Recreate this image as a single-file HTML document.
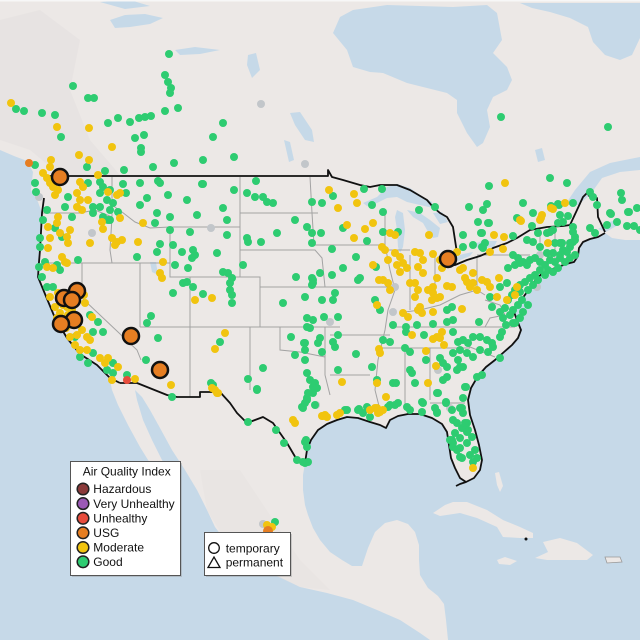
<!DOCTYPE html>
<html><head><meta charset="utf-8">
<style>
html,body{margin:0;padding:0;background:#c6d9e8;}
svg{display:block;}
text{font-family:"Liberation Sans",Arial,sans-serif;font-size:12px;fill:#111;}
</style></head>
<body>
<svg width="640" height="640" viewBox="0 0 640 640" xmlns="http://www.w3.org/2000/svg">
<rect x="0" y="0" width="640" height="640" fill="#c6d9e8"/>
<!-- land -->
<path fill="#ece8e6" d="M0,0 L640,0 L640,240 L625,240 L612,238 L605,233 L598,237 L590,239 L583,242 L579,248 L578,256 L574,262 L566,264 L558,267 L550,270 L543,273 L537,278 L532,285 L527,292 L522,299 L517,305 L514,312 L517,320 L521,330 L518,338 L512,345 L504,352 L495,360 L486,367 L478,376 L471,388 L468,400 L470,415 L475,430 L479,445 L482,460 L480,470 L474,478 L466,482 L460,478 L455,468 L451,458 L449,445 L447,432 L442,424 L432,418 L420,414 L408,414 L398,416 L390,420 L386,428 L380,425 L370,422 L358,418 L347,417 L337,420 L327,424 L318,430 L311,440 L307,450 L305,463 L303,475 L303,490 L305,505 L308,515 L313,528 L320,540 L330,552 L342,560 L352,566 L362,566 L368,548 L375,532 L385,523 L397,520 L408,524 L415,532 L419,545 L419,560 L420,575 L428,588 L438,596 L444,604 L446,620 L448,640 L430,640 L420,633 L400,620 L377,610 L353,600 L327,593 L300,587 L280,577 L257,567 L240,555 L227,543 L215,527 L207,510 L197,490 L185,470 L172,450 L160,428 L150,410 L142,397 L135,390 L137,400 L143,420 L152,440 L162,460 L172,478 L180,495 L176,498 L166,485 L153,468 L140,447 L128,425 L118,405 L112,390 L110,380 L97,365 L80,354 L67,338 L55,318 L45,294 L38,277 L39,262 L40,250 L41,232 L42,213 L38,202 L31,190 L33,172 L27,161 L14,156 L0,150 Z"/>
<!-- terrain hint -->
<path fill="#e6e1df" opacity="0.7" d="M0,20 L40,10 L80,40 L70,90 L90,140 L120,175 L60,175 L30,150 L0,140 Z"/>
<path fill="#e8e3e1" opacity="0.6" d="M200,470 L240,470 L300,560 L330,590 L300,587 L257,567 L227,543 L207,510 Z"/>
<!-- Caribbean islands -->
<path fill="#ece8e6" d="M433,513 L445,505 L453,502 L467,502 L487,510 L503,520 L520,527 L533,533 L533,538 L520,538 L503,537 L497,527 L477,518 L460,513 L440,516 Z"/>
<path fill="#ece8e6" d="M543,542 L560,538 L577,543 L593,555 L587,560 L567,560 L547,560 L535,558 L548,552 Z"/>
<path fill="#ece8e6" d="M497,560 L505,557 L517,561 L510,565 L499,564 Z"/>
<path fill="#ece8e6" stroke="#999" stroke-width="0.8" d="M605,557 L620,557 L622,562 L607,563 Z"/>
<path fill="#ece8e6" d="M495,473 L499,472 L503,486 L500,492 L497,485 Z"/>
<circle cx="526" cy="539" r="1.5" fill="#111"/>
<!-- water bodies -->
<g fill="#c6d9e8">
<path d="M333,33 L340,17 L353,10 L387,5 L453,7 L487,5 L497,13 L502,40 L493,53 L507,67 L512,80 L507,90 L493,97 L487,110 L490,127 L483,143 L477,147 L467,133 L457,113 L457,100 L447,93 L423,87 L407,83 L383,73 L370,72 L353,67 L347,50 Z"/>
<path d="M520,3 L640,3 L640,38 L632,55 L620,60 L605,55 L593,42 L588,27 L570,18 L550,12 L532,8 Z"/>
<path d="M565,205 L575,190 L590,172 L610,163 L640,157 L640,170 L620,172 L602,178 L590,195 L578,205 Z"/>
<path d="M598,229 L610,222 L620,218 L618,225 L606,232 Z"/>
<path d="M110,20 L125,15 L145,14 L163,18 L150,24 L130,27 L115,28 Z"/>
<path d="M100,2 L130,0 L150,6 L125,9 Z"/>
<path d="M175,50 L195,47 L220,50 L200,54 L180,55 Z"/>
<path d="M248,55 L256,53 L260,70 L252,78 L247,65 Z"/>
<path d="M290,113 L300,112 L312,130 L314,142 L305,140 L295,125 Z"/>
<path d="M284,140 L290,142 L294,160 L289,162 Z"/>
<path d="M535,150 L542,148 L545,160 L538,162 Z"/>
<path d="M363,203 L377,197 L387,187 L397,184 L410,188 L420,195 L432,202 L433,208 L420,205 L407,202 L397,197 L387,198 L377,203 L367,206 Z"/>
<path d="M397,210 L403,213 L405,230 L403,247 L400,253 L398,247 L397,230 L395,217 Z"/>
<path d="M407,210 L420,213 L430,220 L440,228 L438,237 L433,238 L427,230 L423,223 L413,217 Z"/>
<path d="M433,213 L442,212 L448,222 L440,224 Z"/>
<path d="M443,263 L452,258 L463,254 L473,252 L470,256 L458,261 L446,265 Z"/>
<path d="M472,245 L482,241 L497,241 L494,247 L480,249 Z"/>
<path d="M150,262 L156,262 L158,275 L152,272 Z"/>
</g>
<rect x="0" y="0" width="640" height="1.5" fill="#f7f7f7"/>
<!-- state borders -->
<g fill="none" stroke="#a3a3a3" stroke-width="1">
<path d="M42,263 L170,263 L170,277 L190,277 L190,397"/>
<path d="M82,263 L82,298 L137,350 L141,360"/>
<path d="M140,263 L140,327"/>
<path d="M140,327 L340,327"/>
<path d="M190,277 L260,277 L260,327"/>
<path d="M260,287 L325,287"/>
<path d="M170,227 L170,263"/>
<path d="M170,227 L240,227 L240,277"/>
<path d="M240,177 L240,227"/>
<path d="M240,213 L318,213"/>
<path d="M240,250 L315,250 L322,258 L325,287"/>
<path d="M112,177 L112,217 L110,250 L112,263"/>
<path d="M112,205 L122,212 L135,222 L150,228 L170,227"/>
<path d="M42,213 L80,213 L95,210 L112,217"/>
<path d="M250,327 L250,390"/>
<path d="M280,327 L280,350 L300,352 L325,357"/>
<path d="M325,327 L325,375 L330,395"/>
<path d="M310,177 L312,213 L314,245"/>
<path d="M314,245 L385,245"/>
<path d="M318,287 L395,287"/>
<path d="M330,335 L390,335"/>
<path d="M330,375 L370,375"/>
<path d="M385,210 L385,245 L390,270 L395,290 L388,310 L385,330 L378,360 L375,390 L380,410"/>
<path d="M385,250 L410,250"/>
<path d="M410,255 L410,310"/>
<path d="M435,255 L435,300"/>
<path d="M405,312 L420,310 L440,305 L460,295 L477,290"/>
<path d="M477,257 L477,290 L485,295"/>
<path d="M477,255 L530,255"/>
<path d="M390,327 L485,327"/>
<path d="M440,327 L515,327"/>
<path d="M380,348 L470,348"/>
<path d="M405,348 L405,405"/>
<path d="M430,348 L430,400"/>
<path d="M430,403 L465,403"/>
<path d="M465,345 L495,357"/>
<path d="M485,300 L500,305 L505,315 L490,318 L485,327"/>
<path d="M540,228 L540,255"/>
<path d="M555,228 L555,258"/>
<path d="M548,255 L548,268"/>
</g>
<!-- US border black -->
<g fill="none" stroke="#111" stroke-width="1.8" stroke-linejoin="round">
<path d="M48,176 L328,176 L328,170 L332,177 L343,180 L360,185 L370,187 L380,185 L397,185 L410,190 L427,200 L433,207 L440,213 L447,217 L453,227 L455,240 L457,253 L452,262 L448,266 L455,265 L467,260 L480,256 L487,253 L493,248 L507,243 L517,238 L530,230 L547,227 L563,226 L570,225 L577,210 L583,197 L587,193 L590,197 L597,198 L598,217 L605,232"/>
<path d="M44,198 L42,213 L41,232 L40,250 L39,262 L38,277 L45,294 L55,318 L67,338 L80,354 L97,365 L110,378 L120,383"/>
<path d="M120,383 L137,383 L167,395 L177,397 L200,397 L200,392 L220,392 L230,403 L237,413 L247,423 L263,417 L273,423 L287,443 L297,460 L305,463"/>
<path d="M305,463 L307,450 L311,440 L318,430 L327,424 L337,420 L347,417 L358,418 L370,422 L380,425 L386,428 L390,420 L398,416 L408,414 L420,414 L432,418 L442,424 L447,432 L449,445 L451,458 L455,468 L460,478 L466,482 L474,478 L480,470 L482,460 L479,445 L475,430 L470,415 L468,400 L471,388 L478,376 L486,367 L495,360 L504,352 L512,345 L518,338 L521,330 L517,320 L514,312 L517,305 L522,299 L527,292 L532,285 L537,278 L543,273 L550,270 L558,267 L566,264 L574,262 L578,256 L579,248 L583,242 L590,239 L598,237 L605,233"/>
<path d="M466,482 L460,484 L456,486"/>
</g>
<!-- grey dots -->
<g fill="#c2c6ca">
<circle cx="261" cy="104" r="4"/><circle cx="305" cy="164" r="4"/><circle cx="92" cy="233" r="4"/><circle cx="211" cy="228" r="4"/><circle cx="316" cy="405" r="4"/><circle cx="395" cy="287" r="4"/><circle cx="393" cy="312" r="4"/><circle cx="438" cy="370" r="4"/><circle cx="450" cy="408" r="4"/><circle cx="537" cy="287" r="4"/><circle cx="540" cy="255" r="4"/><circle cx="263" cy="524" r="4"/><circle cx="39" cy="197" r="4"/><circle cx="330" cy="322" r="4"/>
</g>
<!-- green dots -->
<g fill="#2ecc71">
<circle cx="169" cy="54" r="4"/><circle cx="165" cy="75" r="4"/><circle cx="168" cy="82" r="4"/><circle cx="171" cy="88" r="4"/><circle cx="170" cy="93" r="4"/><circle cx="73" cy="86" r="4"/><circle cx="88" cy="98" r="4"/><circle cx="94" cy="98" r="4"/><circle cx="16" cy="109" r="4"/><circle cx="24" cy="111" r="4"/><circle cx="42" cy="113" r="4"/><circle cx="55" cy="115" r="4"/><circle cx="61" cy="137" r="4"/><circle cx="108" cy="123" r="4"/><circle cx="118" cy="118" r="4"/><circle cx="130" cy="122" r="4"/><circle cx="139" cy="118" r="4"/><circle cx="145" cy="117" r="4"/><circle cx="151" cy="116" r="4"/><circle cx="135" cy="138" r="4"/><circle cx="144" cy="135" r="4"/><circle cx="141" cy="148" r="4"/><circle cx="141" cy="152" r="4"/><circle cx="165" cy="111" r="4"/><circle cx="178" cy="108" r="4"/><circle cx="223" cy="123" r="4"/><circle cx="213" cy="137" r="4"/><circle cx="203" cy="160" r="4"/><circle cx="234" cy="157" r="4"/><circle cx="174" cy="163" r="4"/><circle cx="153" cy="167" r="4"/><circle cx="124" cy="170" r="4"/><circle cx="105" cy="171" r="4"/><circle cx="87" cy="167" r="4"/><circle cx="501" cy="117" r="4"/><circle cx="608" cy="127" r="4"/><circle cx="550" cy="178" r="4"/><circle cx="567" cy="183" r="4"/><circle cx="489" cy="186" r="4"/><circle cx="364" cy="189" r="4"/><circle cx="382" cy="189" r="4"/><circle cx="202" cy="184" r="4"/><circle cx="234" cy="190" r="4"/><circle cx="256" cy="181" r="4"/><circle cx="158" cy="181" r="4"/><circle cx="140" cy="183" r="4"/><circle cx="35" cy="165" r="4"/>
<circle cx="35" cy="183" r="4"/><circle cx="36" cy="192" r="4"/><circle cx="100" cy="182" r="4"/><circle cx="88" cy="183" r="4"/><circle cx="68" cy="197" r="4"/><circle cx="65" cy="207" r="4"/><circle cx="93" cy="207" r="4"/><circle cx="100" cy="193" r="4"/><circle cx="72" cy="217" r="4"/><circle cx="103" cy="187" r="4"/><circle cx="110" cy="190" r="4"/><circle cx="107" cy="200" r="4"/><circle cx="100" cy="207" r="4"/><circle cx="113" cy="203" r="4"/><circle cx="110" cy="210" r="4"/><circle cx="93" cy="213" r="4"/><circle cx="118" cy="212" r="4"/><circle cx="103" cy="217" r="4"/><circle cx="110" cy="220" r="4"/><circle cx="123" cy="184" r="4"/><circle cx="126" cy="193" r="4"/><circle cx="147" cy="198" r="4"/><circle cx="140" cy="205" r="4"/><circle cx="160" cy="183" r="4"/><circle cx="157" cy="213" r="4"/><circle cx="168" cy="195" r="4"/><circle cx="170" cy="217" r="4"/><circle cx="187" cy="200" r="4"/><circle cx="203" cy="184" r="4"/><circle cx="197" cy="215" r="4"/><circle cx="223" cy="208" r="4"/><circle cx="227" cy="220" r="4"/><circle cx="247" cy="193" r="4"/><circle cx="255" cy="197" r="4"/><circle cx="263" cy="197" r="4"/><circle cx="267" cy="202" r="4"/><circle cx="273" cy="203" r="4"/><circle cx="312" cy="202" r="4"/><circle cx="155" cy="223" r="4"/><circle cx="108" cy="220" r="4"/><circle cx="43" cy="220" r="4"/><circle cx="47" cy="210" r="4"/><circle cx="55" cy="228" r="4"/><circle cx="40" cy="238" r="4"/><circle cx="62" cy="237" r="4"/><circle cx="137" cy="257" r="4"/><circle cx="160" cy="244" r="4"/><circle cx="157" cy="252" r="4"/><circle cx="173" cy="245" r="4"/><circle cx="170" cy="230" r="4"/><circle cx="190" cy="232" r="4"/><circle cx="227" cy="235" r="4"/><circle cx="247" cy="238" r="4"/><circle cx="248" cy="242" r="4"/><circle cx="261" cy="242" r="4"/><circle cx="277" cy="233" r="4"/><circle cx="295" cy="220" r="4"/><circle cx="307" cy="227" r="4"/><circle cx="312" cy="233" r="4"/><circle cx="312" cy="243" r="4"/><circle cx="40" cy="247" r="4"/><circle cx="45" cy="262" r="4"/><circle cx="57" cy="265" r="4"/><circle cx="60" cy="270" r="4"/><circle cx="39" cy="267" r="4"/><circle cx="42" cy="277" r="4"/><circle cx="78" cy="260" r="4"/><circle cx="182" cy="252" r="4"/><circle cx="193" cy="250" r="4"/><circle cx="195" cy="255" r="4"/><circle cx="192" cy="258" r="4"/><circle cx="217" cy="253" r="4"/><circle cx="175" cy="265" r="4"/><circle cx="188" cy="268" r="4"/><circle cx="183" cy="283" r="4"/><circle cx="187" cy="282" r="4"/><circle cx="173" cy="293" r="4"/><circle cx="193" cy="287" r="4"/><circle cx="203" cy="294" r="4"/><circle cx="230" cy="283" r="4"/><circle cx="230" cy="290" r="4"/><circle cx="232" cy="295" r="4"/><circle cx="228" cy="273" r="4"/><circle cx="232" cy="278" r="4"/><circle cx="232" cy="303" r="4"/><circle cx="243" cy="265" r="4"/><circle cx="223" cy="272" r="4"/><circle cx="296" cy="277" r="4"/><circle cx="313" cy="280" r="4"/><circle cx="312" cy="285" r="4"/><circle cx="283" cy="303" r="4"/><circle cx="307" cy="318" r="4"/><circle cx="310" cy="328" r="4"/><circle cx="53" cy="287" r="4"/><circle cx="47" cy="287" r="4"/><circle cx="98" cy="322" r="4"/><circle cx="90" cy="315" r="4"/><circle cx="103" cy="332" r="4"/><circle cx="93" cy="332" r="4"/><circle cx="75" cy="337" r="4"/><circle cx="80" cy="357" r="4"/><circle cx="88" cy="363" r="4"/><circle cx="93" cy="353" r="4"/><circle cx="107" cy="370" r="4"/><circle cx="113" cy="363" r="4"/><circle cx="113" cy="373" r="4"/><circle cx="127" cy="375" r="4"/><circle cx="146" cy="360" r="4"/><circle cx="172" cy="397" r="4"/><circle cx="151" cy="316" r="4"/><circle cx="147" cy="323" r="4"/><circle cx="158" cy="338" r="4"/><circle cx="220" cy="342" r="4"/><circle cx="211" cy="383" r="4"/><circle cx="248" cy="379" r="4"/><circle cx="257" cy="389" r="4"/><circle cx="263" cy="368" r="4"/><circle cx="304" cy="343" r="4"/><circle cx="305" cy="350" r="4"/><circle cx="291" cy="337" r="4"/><circle cx="295" cy="355" r="4"/><circle cx="302" cy="407" r="4"/>
<circle cx="213" cy="385" r="4"/><circle cx="257" cy="390" r="4"/><circle cx="248" cy="422" r="4"/><circle cx="276" cy="430" r="4"/><circle cx="284" cy="443" r="4"/><circle cx="297" cy="460" r="4"/><circle cx="305" cy="463" r="4"/><circle cx="308" cy="462" r="4"/><circle cx="305" cy="442" r="4"/><circle cx="307" cy="447" r="4"/><circle cx="303" cy="408" r="4"/><circle cx="308" cy="393" r="4"/><circle cx="307" cy="400" r="4"/><circle cx="313" cy="387" r="4"/><circle cx="347" cy="410" r="4"/><circle cx="358" cy="410" r="4"/><circle cx="367" cy="407" r="4"/><circle cx="390" cy="405" r="4"/><circle cx="398" cy="403" r="4"/><circle cx="407" cy="407" r="4"/><circle cx="422" cy="412" r="4"/><circle cx="423" cy="403" r="4"/><circle cx="437" cy="412" r="4"/><circle cx="446" cy="403" r="4"/><circle cx="462" cy="408" r="4"/><circle cx="463" cy="413" r="4"/><circle cx="463" cy="398" r="4"/><circle cx="465" cy="387" r="4"/><circle cx="453" cy="420" r="4"/><circle cx="450" cy="440" r="4"/><circle cx="453" cy="443" r="4"/><circle cx="460" cy="438" r="4"/><circle cx="467" cy="423" r="4"/><circle cx="468" cy="430" r="4"/><circle cx="472" cy="437" r="4"/><circle cx="457" cy="450" r="4"/><circle cx="460" cy="457" r="4"/><circle cx="475" cy="450" r="4"/><circle cx="477" cy="458" r="4"/><circle cx="473" cy="462" r="4"/><circle cx="377" cy="380" r="4"/><circle cx="393" cy="383" r="4"/><circle cx="415" cy="383" r="4"/><circle cx="437" cy="393" r="4"/><circle cx="443" cy="380" r="4"/><circle cx="275" cy="522" r="4"/>
<circle cx="322" cy="203" r="4"/><circle cx="333" cy="196" r="4"/><circle cx="372" cy="205" r="4"/><circle cx="383" cy="212" r="4"/><circle cx="419" cy="210" r="4"/><circle cx="435" cy="207" r="4"/><circle cx="469" cy="207" r="4"/><circle cx="487" cy="204" r="4"/><circle cx="523" cy="203" r="4"/><circle cx="533" cy="213" r="4"/><circle cx="551" cy="206" r="4"/><circle cx="559" cy="205" r="4"/><circle cx="573" cy="203" r="4"/><circle cx="590" cy="192" r="4"/><circle cx="597" cy="205" r="4"/><circle cx="610" cy="213" r="4"/><circle cx="621" cy="193" r="4"/><circle cx="628" cy="212" r="4"/><circle cx="637" cy="208" r="4"/><circle cx="321" cy="233" r="4"/><circle cx="343" cy="228" r="4"/><circle cx="383" cy="232" r="4"/><circle cx="367" cy="241" r="4"/><circle cx="398" cy="232" r="4"/><circle cx="463" cy="235" r="4"/><circle cx="481" cy="233" r="4"/><circle cx="513" cy="236" r="4"/><circle cx="488" cy="223" r="4"/><circle cx="478" cy="222" r="4"/><circle cx="473" cy="245" r="4"/><circle cx="482" cy="247" r="4"/><circle cx="527" cy="240" r="4"/><circle cx="533" cy="242" r="4"/><circle cx="540" cy="247" r="4"/><circle cx="547" cy="233" r="4"/><circle cx="553" cy="230" r="4"/><circle cx="560" cy="243" r="4"/><circle cx="563" cy="250" r="4"/><circle cx="570" cy="247" r="4"/><circle cx="575" cy="240" r="4"/><circle cx="332" cy="249" r="4"/><circle cx="356" cy="257" r="4"/><circle cx="463" cy="247" r="4"/><circle cx="376" cy="267" r="4"/><circle cx="360" cy="278" r="4"/><circle cx="343" cy="268" r="4"/><circle cx="320" cy="273" r="4"/><circle cx="312" cy="278" r="4"/><circle cx="313" cy="283" r="4"/><circle cx="332" cy="275" r="4"/><circle cx="508" cy="268" r="4"/><circle cx="515" cy="265" r="4"/><circle cx="520" cy="263" r="4"/><circle cx="490" cy="297" r="4"/><circle cx="500" cy="287" r="4"/><circle cx="507" cy="283" r="4"/><circle cx="358" cy="280" r="4"/><circle cx="305" cy="297" r="4"/><circle cx="322" cy="300" r="4"/><circle cx="333" cy="300" r="4"/><circle cx="335" cy="293" r="4"/><circle cx="324" cy="317" r="4"/><circle cx="313" cy="320" r="4"/><circle cx="338" cy="317" r="4"/><circle cx="375" cy="300" r="4"/><circle cx="380" cy="310" r="4"/><circle cx="447" cy="310" r="4"/><circle cx="452" cy="307" r="4"/><circle cx="393" cy="325" r="4"/><circle cx="406" cy="327" r="4"/><circle cx="417" cy="325" r="4"/><circle cx="433" cy="324" r="4"/><circle cx="447" cy="322" r="4"/><circle cx="453" cy="320" r="4"/><circle cx="479" cy="322" r="4"/><circle cx="492" cy="307" r="4"/><circle cx="503" cy="318" r="4"/><circle cx="513" cy="323" r="4"/><circle cx="307" cy="327" r="4"/><circle cx="320" cy="338" r="4"/><circle cx="318" cy="343" r="4"/><circle cx="305" cy="343" r="4"/><circle cx="333" cy="342" r="4"/><circle cx="335" cy="347" r="4"/><circle cx="322" cy="352" r="4"/><circle cx="338" cy="335" r="4"/><circle cx="305" cy="360" r="4"/><circle cx="356" cy="354" r="4"/><circle cx="383" cy="340" r="4"/><circle cx="390" cy="342" r="4"/><circle cx="406" cy="332" r="4"/><circle cx="424" cy="335" r="4"/><circle cx="453" cy="332" r="4"/><circle cx="458" cy="342" r="4"/><circle cx="463" cy="340" r="4"/><circle cx="468" cy="343" r="4"/><circle cx="473" cy="337" r="4"/><circle cx="480" cy="337" r="4"/><circle cx="487" cy="340" r="4"/><circle cx="492" cy="343" r="4"/><circle cx="500" cy="337" r="4"/><circle cx="453" cy="353" r="4"/><circle cx="460" cy="350" r="4"/><circle cx="467" cy="353" r="4"/><circle cx="473" cy="357" r="4"/><circle cx="480" cy="350" r="4"/><circle cx="488" cy="352" r="4"/><circle cx="493" cy="347" r="4"/><circle cx="502" cy="332" r="4"/><circle cx="500" cy="358" r="4"/><circle cx="405" cy="348" r="4"/><circle cx="410" cy="352" r="4"/><circle cx="426" cy="360" r="4"/><circle cx="440" cy="358" r="4"/><circle cx="443" cy="363" r="4"/><circle cx="447" cy="367" r="4"/><circle cx="458" cy="360" r="4"/><circle cx="463" cy="367" r="4"/><circle cx="307" cy="373" r="4"/><circle cx="310" cy="380" r="4"/><circle cx="315" cy="383" r="4"/><circle cx="317" cy="388" r="4"/><circle cx="313" cy="393" r="4"/><circle cx="307" cy="398" r="4"/><circle cx="305" cy="403" r="4"/><circle cx="338" cy="370" r="4"/><circle cx="372" cy="367" r="4"/><circle cx="396" cy="383" r="4"/><circle cx="410" cy="370" r="4"/><circle cx="412" cy="373" r="4"/><circle cx="447" cy="377" r="4"/><circle cx="457" cy="370" r="4"/><circle cx="460" cy="367" r="4"/><circle cx="438" cy="393" r="4"/><circle cx="466" cy="387" r="4"/><circle cx="477" cy="377" r="4"/><circle cx="482" cy="375" r="4"/><circle cx="422" cy="402" r="4"/><circle cx="446" cy="402" r="4"/><circle cx="315" cy="405" r="4"/><circle cx="345" cy="410" r="4"/><circle cx="359" cy="409" r="4"/><circle cx="363" cy="413" r="4"/><circle cx="370" cy="417" r="4"/><circle cx="388" cy="407" r="4"/><circle cx="395" cy="405" r="4"/><circle cx="410" cy="410" r="4"/><circle cx="435" cy="408" r="4"/><circle cx="437" cy="413" r="4"/><circle cx="452" cy="410" r="4"/><circle cx="460" cy="408" r="4"/><circle cx="457" cy="423" r="4"/><circle cx="462" cy="428" r="4"/><circle cx="465" cy="423" r="4"/><circle cx="455" cy="433" r="4"/><circle cx="467" cy="432" r="4"/><circle cx="452" cy="440" r="4"/><circle cx="453" cy="447" r="4"/><circle cx="460" cy="448" r="4"/><circle cx="467" cy="443" r="4"/><circle cx="462" cy="458" r="4"/><circle cx="470" cy="455" r="4"/><circle cx="306" cy="440" r="4"/><circle cx="303" cy="462" r="4"/>
<circle cx="593" cy="197" r="4"/><circle cx="622" cy="200" r="4"/><circle cx="611" cy="214" r="4"/><circle cx="629" cy="212" r="4"/><circle cx="617" cy="222" r="4"/><circle cx="627" cy="226" r="4"/><circle cx="634" cy="226" r="4"/><circle cx="640" cy="230" r="4"/><circle cx="607" cy="225" r="4"/><circle cx="590" cy="228" r="4"/><circle cx="595" cy="233" r="4"/><circle cx="483" cy="210" r="4"/><circle cx="558" cy="204" r="4"/><circle cx="517" cy="218" r="4"/><circle cx="532" cy="226" r="4"/><circle cx="560" cy="215" r="4"/><circle cx="568" cy="216" r="4"/><circle cx="558" cy="223" r="4"/><circle cx="563" cy="222" r="4"/><circle cx="573" cy="227" r="4"/><circle cx="573" cy="232" r="4"/><circle cx="575" cy="237" r="4"/><circle cx="573" cy="242" r="4"/><circle cx="538" cy="233" r="4"/><circle cx="550" cy="232" r="4"/><circle cx="555" cy="243" r="4"/><circle cx="562" cy="243" r="4"/><circle cx="570" cy="243" r="4"/><circle cx="489" cy="223" r="4"/><circle cx="482" cy="233" r="4"/><circle cx="485" cy="243" r="4"/><circle cx="483" cy="248" r="4"/><circle cx="547" cy="253" r="4"/><circle cx="553" cy="253" r="4"/><circle cx="560" cy="255" r="4"/><circle cx="567" cy="252" r="4"/>
<circle cx="513" cy="255" r="4"/><circle cx="518" cy="258" r="4"/><circle cx="523" cy="262" r="4"/><circle cx="527" cy="265" r="4"/><circle cx="530" cy="260" r="4"/><circle cx="535" cy="258" r="4"/><circle cx="540" cy="262" r="4"/><circle cx="545" cy="265" r="4"/><circle cx="550" cy="260" r="4"/><circle cx="555" cy="262" r="4"/><circle cx="560" cy="258" r="4"/><circle cx="565" cy="262" r="4"/><circle cx="570" cy="258" r="4"/><circle cx="575" cy="255" r="4"/><circle cx="548" cy="270" r="4"/><circle cx="553" cy="272" r="4"/><circle cx="558" cy="268" r="4"/><circle cx="545" cy="275" r="4"/><circle cx="540" cy="270" r="4"/><circle cx="535" cy="275" r="4"/><circle cx="530" cy="278" r="4"/><circle cx="525" cy="282" r="4"/><circle cx="520" cy="285" r="4"/><circle cx="515" cy="290" r="4"/><circle cx="512" cy="295" r="4"/><circle cx="508" cy="300" r="4"/><circle cx="520" cy="292" r="4"/><circle cx="528" cy="290" r="4"/><circle cx="533" cy="285" r="4"/><circle cx="538" cy="280" r="4"/><circle cx="522" cy="300" r="4"/><circle cx="518" cy="305" r="4"/><circle cx="513" cy="310" r="4"/><circle cx="510" cy="315" r="4"/><circle cx="505" cy="308" r="4"/><circle cx="500" cy="312" r="4"/><circle cx="523" cy="312" r="4"/><circle cx="528" cy="305" r="4"/><circle cx="506" cy="325" r="4"/><circle cx="515" cy="323" r="4"/><circle cx="520" cy="318" r="4"/>
</g>
<!-- yellow dots -->
<g fill="#f1c40f">
<circle cx="11" cy="103" r="4"/><circle cx="57" cy="127" r="4"/><circle cx="89" cy="128" r="4"/><circle cx="112" cy="147" r="4"/><circle cx="79" cy="155" r="4"/><circle cx="89" cy="160" r="4"/><circle cx="505" cy="183" r="4"/><circle cx="329" cy="190" r="4"/><circle cx="354" cy="194" r="4"/><circle cx="51" cy="160" r="4"/><circle cx="50" cy="167" r="4"/>
<circle cx="43" cy="173" r="4"/><circle cx="47" cy="178" r="4"/><circle cx="50" cy="183" r="4"/><circle cx="53" cy="187" r="4"/><circle cx="58" cy="190" r="4"/><circle cx="55" cy="195" r="4"/><circle cx="98" cy="175" r="4"/><circle cx="80" cy="182" r="4"/><circle cx="83" cy="187" r="4"/><circle cx="77" cy="193" r="4"/><circle cx="80" cy="200" r="4"/><circle cx="77" cy="207" r="4"/><circle cx="82" cy="210" r="4"/><circle cx="88" cy="200" r="4"/><circle cx="120" cy="218" r="4"/><circle cx="143" cy="223" r="4"/><circle cx="102" cy="222" r="4"/><circle cx="108" cy="192" r="4"/><circle cx="117" cy="195" r="4"/><circle cx="120" cy="193" r="4"/><circle cx="48" cy="227" r="4"/><circle cx="58" cy="217" r="4"/><circle cx="57" cy="223" r="4"/><circle cx="60" cy="233" r="4"/><circle cx="70" cy="230" r="4"/><circle cx="67" cy="237" r="4"/><circle cx="68" cy="243" r="4"/><circle cx="50" cy="238" r="4"/><circle cx="90" cy="243" r="4"/><circle cx="103" cy="229" r="4"/><circle cx="112" cy="238" r="4"/><circle cx="117" cy="242" r="4"/><circle cx="122" cy="240" r="4"/><circle cx="115" cy="245" r="4"/><circle cx="138" cy="242" r="4"/><circle cx="48" cy="248" r="4"/><circle cx="62" cy="257" r="4"/><circle cx="65" cy="262" r="4"/><circle cx="47" cy="267" r="4"/><circle cx="53" cy="268" r="4"/><circle cx="67" cy="263" r="4"/>
<circle cx="163" cy="262" r="4"/><circle cx="160" cy="273" r="4"/><circle cx="162" cy="278" r="4"/><circle cx="195" cy="300" r="4"/><circle cx="212" cy="298" r="4"/>
<circle cx="50" cy="297" r="4"/><circle cx="55" cy="307" r="4"/><circle cx="60" cy="313" r="4"/><circle cx="67" cy="307" r="4"/><circle cx="80" cy="293" r="4"/><circle cx="85" cy="303" r="4"/><circle cx="82" cy="330" r="4"/><circle cx="87" cy="337" r="4"/><circle cx="77" cy="335" r="4"/><circle cx="90" cy="340" r="4"/><circle cx="70" cy="337" r="4"/><circle cx="75" cy="345" r="4"/><circle cx="80" cy="350" r="4"/><circle cx="87" cy="350" r="4"/><circle cx="92" cy="317" r="4"/><circle cx="100" cy="358" r="4"/><circle cx="105" cy="363" r="4"/><circle cx="108" cy="358" r="4"/><circle cx="118" cy="367" r="4"/><circle cx="112" cy="380" r="4"/><circle cx="135" cy="379" r="4"/><circle cx="171" cy="385" r="4"/><circle cx="225" cy="333" r="4"/><circle cx="215" cy="349" r="4"/><circle cx="212" cy="388" r="4"/><circle cx="217" cy="393" r="4"/><circle cx="58" cy="293" r="4"/><circle cx="63" cy="305" r="4"/><circle cx="68" cy="315" r="4"/><circle cx="72" cy="310" r="4"/><circle cx="57" cy="318" r="4"/><circle cx="66" cy="328" r="4"/><circle cx="75" cy="325" r="4"/><circle cx="84" cy="295" r="4"/>
<circle cx="215" cy="390" r="4"/><circle cx="218" cy="393" r="4"/><circle cx="293" cy="420" r="4"/><circle cx="295" cy="423" r="4"/><circle cx="325" cy="415" r="4"/><circle cx="322" cy="416" r="4"/><circle cx="337" cy="415" r="4"/><circle cx="340" cy="413" r="4"/><circle cx="370" cy="410" r="4"/><circle cx="377" cy="408" r="4"/><circle cx="380" cy="412" r="4"/><circle cx="383" cy="410" r="4"/><circle cx="378" cy="413" r="4"/><circle cx="428" cy="383" r="4"/><circle cx="267" cy="525" r="4"/><circle cx="272" cy="527" r="4"/>
<circle cx="338" cy="208" r="4"/><circle cx="357" cy="203" r="4"/><circle cx="520" cy="220" r="4"/><circle cx="541" cy="218" r="4"/><circle cx="542" cy="215" r="4"/><circle cx="565" cy="203" r="4"/><circle cx="551" cy="208" r="4"/><circle cx="553" cy="209" r="4"/><circle cx="540" cy="220" r="4"/><circle cx="521" cy="221" r="4"/><circle cx="347" cy="225" r="4"/><circle cx="365" cy="229" r="4"/><circle cx="373" cy="223" r="4"/><circle cx="354" cy="238" r="4"/><circle cx="390" cy="233" r="4"/><circle cx="395" cy="235" r="4"/><circle cx="429" cy="235" r="4"/><circle cx="494" cy="235" r="4"/><circle cx="504" cy="237" r="4"/><circle cx="490" cy="252" r="4"/><circle cx="503" cy="249" r="4"/><circle cx="548" cy="243" r="4"/><circle cx="382" cy="247" r="4"/><circle cx="385" cy="250" r="4"/><circle cx="388" cy="260" r="4"/><circle cx="395" cy="253" r="4"/><circle cx="400" cy="257" r="4"/><circle cx="403" cy="263" r="4"/><circle cx="397" cy="265" r="4"/><circle cx="407" cy="268" r="4"/><circle cx="400" cy="272" r="4"/><circle cx="415" cy="252" r="4"/><circle cx="420" cy="253" r="4"/><circle cx="423" cy="260" r="4"/><circle cx="418" cy="267" r="4"/><circle cx="423" cy="273" r="4"/><circle cx="433" cy="254" r="4"/><circle cx="457" cy="252" r="4"/><circle cx="440" cy="260" r="4"/><circle cx="442" cy="268" r="4"/><circle cx="373" cy="265" r="4"/><circle cx="379" cy="280" r="4"/><circle cx="383" cy="280" r="4"/><circle cx="388" cy="283" r="4"/><circle cx="390" cy="290" r="4"/><circle cx="410" cy="283" r="4"/><circle cx="415" cy="283" r="4"/><circle cx="418" cy="290" r="4"/><circle cx="415" cy="297" r="4"/><circle cx="428" cy="290" r="4"/><circle cx="433" cy="293" r="4"/><circle cx="437" cy="298" r="4"/><circle cx="432" cy="300" r="4"/><circle cx="440" cy="297" r="4"/><circle cx="433" cy="287" r="4"/><circle cx="447" cy="286" r="4"/><circle cx="452" cy="287" r="4"/><circle cx="437" cy="278" r="4"/><circle cx="465" cy="278" r="4"/><circle cx="467" cy="282" r="4"/><circle cx="470" cy="287" r="4"/><circle cx="473" cy="283" r="4"/><circle cx="477" cy="290" r="4"/><circle cx="482" cy="280" r="4"/><circle cx="487" cy="282" r="4"/><circle cx="490" cy="287" r="4"/><circle cx="473" cy="273" r="4"/><circle cx="460" cy="270" r="4"/><circle cx="463" cy="268" r="4"/><circle cx="499" cy="278" r="4"/><circle cx="497" cy="297" r="4"/><circle cx="507" cy="300" r="4"/><circle cx="517" cy="287" r="4"/><circle cx="515" cy="295" r="4"/><circle cx="377" cy="305" r="4"/><circle cx="403" cy="313" r="4"/><circle cx="408" cy="317" r="4"/><circle cx="418" cy="310" r="4"/><circle cx="422" cy="313" r="4"/><circle cx="420" cy="307" r="4"/><circle cx="433" cy="312" r="4"/><circle cx="462" cy="309" r="4"/><circle cx="379" cy="349" r="4"/><circle cx="380" cy="353" r="4"/><circle cx="412" cy="335" r="4"/><circle cx="433" cy="339" r="4"/><circle cx="437" cy="337" r="4"/><circle cx="440" cy="338" r="4"/><circle cx="442" cy="332" r="4"/><circle cx="444" cy="345" r="4"/><circle cx="426" cy="351" r="4"/><circle cx="342" cy="382" r="4"/><circle cx="377" cy="383" r="4"/><circle cx="386" cy="397" r="4"/><circle cx="436" cy="366" r="4"/><circle cx="323" cy="416" r="4"/><circle cx="327" cy="417" r="4"/><circle cx="375" cy="408" r="4"/><circle cx="473" cy="468" r="4"/>
</g>
<!-- orange / red small -->
<circle cx="29" cy="163" r="4" fill="#e67e22"/>
<circle cx="268" cy="531" r="5" fill="#e67e22"/>
<circle cx="127" cy="380" r="4" fill="#e74c3c"/>
<!-- big USG circles -->
<g fill="#e67e22" stroke="#111" stroke-width="2.5">
<circle cx="60" cy="177" r="8"/>
<circle cx="77" cy="291" r="8"/>
<circle cx="64" cy="298" r="8"/>
<circle cx="72" cy="300" r="8"/>
<circle cx="74" cy="320" r="8"/>
<circle cx="61" cy="324" r="8"/>
<circle cx="131" cy="336" r="8"/>
<circle cx="160" cy="370" r="8"/>
<circle cx="448" cy="259" r="8"/>
</g>
<!-- legend 1 -->
<rect x="72" y="463" width="110" height="114" fill="#888" opacity="0.35"/>
<rect x="70.5" y="461.5" width="110" height="114" fill="#fff" stroke="#555" stroke-width="1"/>
<text x="82.7" y="475.5">Air Quality Index</text>
<g stroke="#222" stroke-width="1.5">
<circle cx="83" cy="489" r="5.8" fill="#8b3a3a"/>
<circle cx="83" cy="503.6" r="5.8" fill="#9b59b6"/>
<circle cx="83" cy="518.3" r="5.8" fill="#e74c3c"/>
<circle cx="83" cy="532.8" r="5.8" fill="#e67e22"/>
<circle cx="83" cy="547.5" r="5.8" fill="#f1c40f"/>
<circle cx="83" cy="561.8" r="5.8" fill="#2ecc71"/>
</g>
<text x="93.3" y="493.2">Hazardous</text>
<text x="93.3" y="507.8">Very Unhealthy</text>
<text x="93.3" y="522.5">Unhealthy</text>
<text x="93.3" y="537">USG</text>
<text x="93.3" y="551.7">Moderate</text>
<text x="93.3" y="566">Good</text>
<!-- legend 2 -->
<rect x="206" y="534" width="86" height="43" fill="#888" opacity="0.35"/>
<rect x="204.5" y="532.5" width="86" height="43" fill="#fff" stroke="#555" stroke-width="1"/>
<circle cx="214" cy="548" r="5.3" fill="none" stroke="#111" stroke-width="1.3"/>
<path d="M208,567.5 L220,567.5 L214,557 Z" fill="none" stroke="#111" stroke-width="1.3"/>
<text x="225.7" y="552.3">temporary</text>
<text x="225.7" y="566.5">permanent</text>
</svg>
</body></html>
